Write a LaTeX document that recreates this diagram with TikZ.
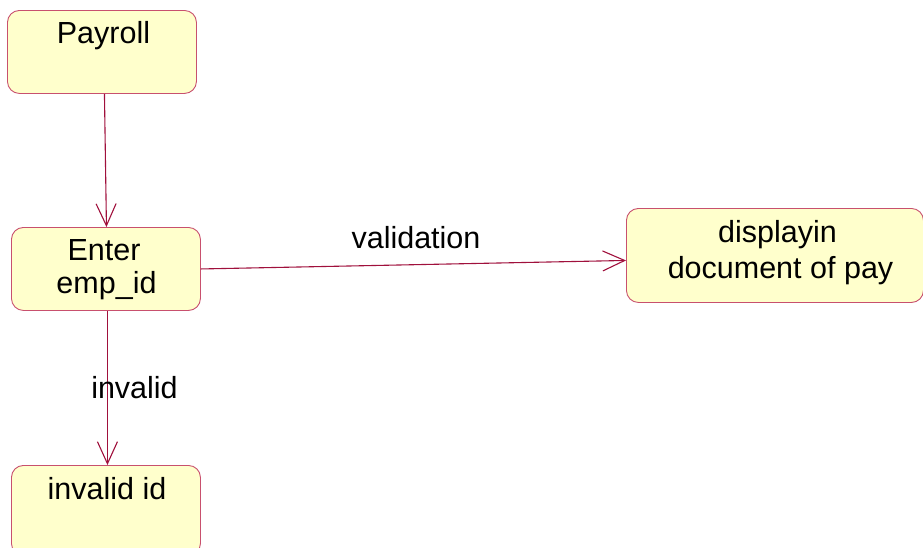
\documentclass[tikz,border=0pt]{standalone}
\usepackage{fontspec}
\setmainfont{Liberation Sans}
\usetikzlibrary{arrows.meta}
\definecolor{boxfill}{HTML}{FFFFCC}
\definecolor{boxline}{HTML}{C8506E}
\definecolor{arr}{HTML}{A0103C}
\begin{document}
\begin{tikzpicture}[x=1pt,y=-1pt,
  state/.style={draw=boxline, fill=boxfill, rounded corners=12pt, line width=0.9pt, anchor=north west, inner sep=0pt},
  lbl/.style={font=\fontsize{30.5}{32}\selectfont, inner sep=0pt, anchor=base},
  conn/.style={draw=arr, line width=1.1pt, -{Straight Barb[length=22pt,width=20pt,line width=1.1pt]}}]
\useasboundingbox (0,0) rectangle (923,547);
% states
\node[state, minimum width=189pt, minimum height=83pt] (payroll) at (7,10) {};
\node[state, minimum width=189pt, minimum height=83pt] (enter) at (11,227) {};
\node[state, minimum width=297pt, minimum height=94pt] (display) at (626,208) {};
\node[state, minimum width=189pt, minimum height=90pt] (invalid) at (11,465) {};
% texts
\node[lbl] (tpayroll) at (103.5,43) {Payroll};
\node[lbl] (tenter1) at (104,260.5) {Enter};
\node[lbl] (tenter2) at (106.5,293) {emp\_id};
\node[lbl] (tdisp1) at (777.5,242) {displayin};
\node[lbl] (tdisp2) at (780.5,278) {document of pay};
\node[lbl] (tinvalid) at (107,499) {invalid id};
% connectors
\draw[conn] ([xshift=2.5pt]payroll.south) -- ([xshift=0.5pt]enter.north);
\draw[conn] ([yshift=0pt]enter.east) -- ([yshift=-5pt]display.west);
\draw[conn] ([xshift=1.5pt]enter.south) -- ([xshift=1.5pt]invalid.north);
% connector labels
\node[lbl] (lvalidation) at (416,248) {validation};
\node[lbl] (linvalid) at (134.5,398.5) {invalid};
\end{tikzpicture}
\end{document}
